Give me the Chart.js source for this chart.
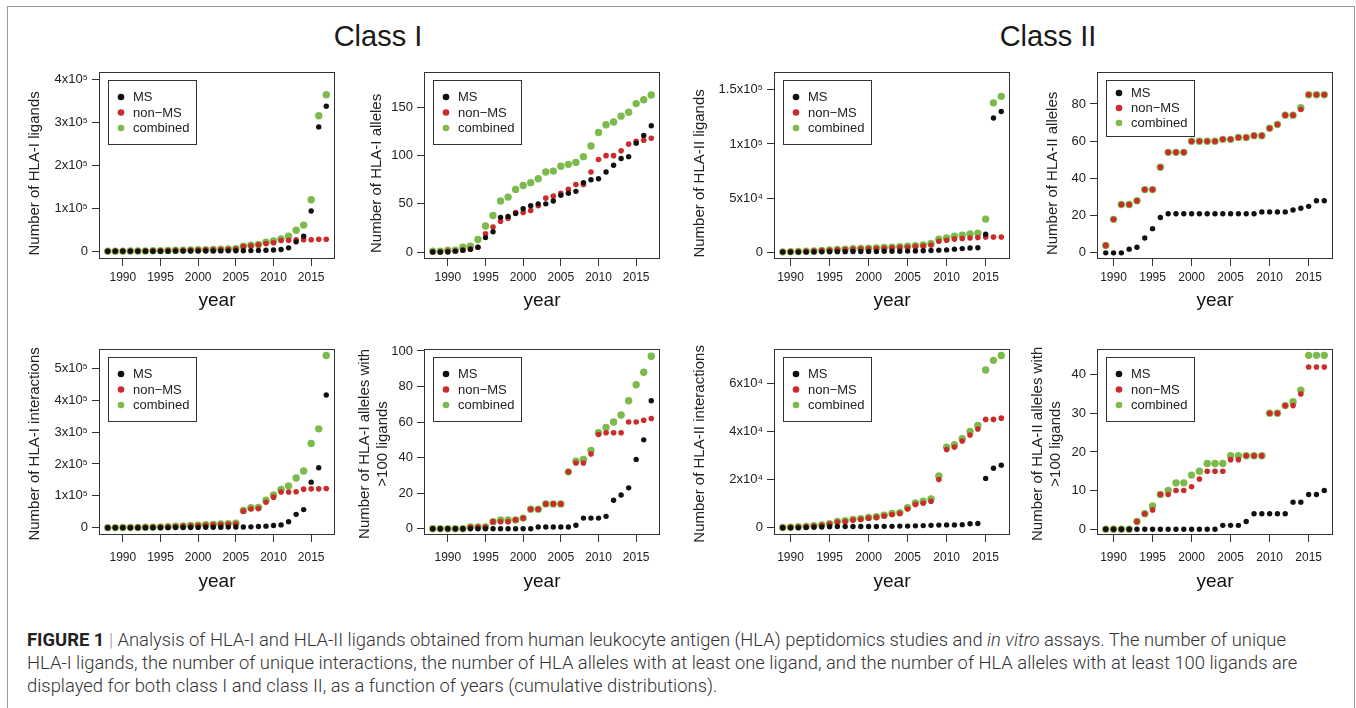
<!DOCTYPE html>
<html lang="en">
<head>
<meta charset="UTF-8" />
<title>HLA-I and HLA-II ligands by year</title>
<script src="https://cdn.jsdelivr.net/npm/chart.js"></script>
<style>
  body {
    margin: 0;
    width: 1356px;
    height: 708px;
    overflow: hidden;
    position: relative;
    background: #fff;
    color: #222;
    font-family: "Liberation Sans", Arial, Helvetica, sans-serif;
  }
  .frame {
    position: absolute;
    left: 7px;
    top: 6px;
    width: 1346px;
    height: 720px;
    border: 1px solid #9a9a9a;
  }
  .classTitle {
    position: absolute;
    top: 18px;
    width: 200px;
    text-align: center;
    font-size: 29px;
    line-height: 36px;
    color: #1a1a1a;
  }
  canvas { position: absolute; }
  .caption {
    position: absolute;
    left: 27px;
    top: 628px;
    font-family: Roboto, "Liberation Sans", sans-serif;
    font-weight: 300;
    font-size: 18.4px;
    line-height: 23px;
    white-space: nowrap;
    color: #333;
  }
  .caption b { font-weight: 700; color: #222; }
  .caption .bar { color: #999; }
</style>
</head>
<body>
<div class="frame"></div>
<div class="classTitle" style="left:278px">Class I</div>
<div class="classTitle" style="left:948px">Class II</div>

<div class="caption">
  <b>FIGURE 1</b> <span class="bar">|</span> Analysis of HLA-I and HLA-II ligands obtained from human leukocyte antigen (HLA) peptidomics studies and <i>in vitro</i> assays. The number of unique<br>
  HLA-I ligands, the number of unique interactions, the number of HLA alleles with at least one ligand, and the number of HLA alleles with at least 100 ligands are<br>
  displayed for both class I and class II, as a function of years (cumulative distributions).
</div>

<script>
  // ---- data ----
  const yearsI = [1988, 1989, 1990, 1991, 1992, 1993, 1994, 1995, 1996, 1997, 1998, 1999, 2000, 2001, 2002,
                  2003, 2004, 2005, 2006, 2007, 2008, 2009, 2010, 2011, 2012, 2013, 2014, 2015, 2016, 2017];
  const yearsII = [1989, 1990, 1991, 1992, 1993, 1994, 1995, 1996, 1997, 1998, 1999, 2000, 2001, 2002,
                   2003, 2004, 2005, 2006, 2007, 2008, 2009, 2010, 2011, 2012, 2013, 2014, 2015, 2016, 2017];
  const xTickYears = [1990, 1995, 2000, 2005, 2010, 2015];
  const seriesNames = ['MS', 'non\u2212MS', 'combined'];

  // HLA-I ligands
  const ligI_MS = [0, 0, 0, 0, 0, 0, 0, 100, 200, 300, 400, 500, 600, 700, 800,
                   900, 1000, 1100, 1300, 1600, 2000, 2500, 3000, 4000, 8000, 22000, 35000, 94000, 290000, 338000];
  const ligI_nonMS = [200, 300, 400, 500, 700, 900, 1100, 1400, 1700, 2000, 2300, 2600, 2900, 3200, 3600,
                      4000, 4500, 5000, 11000, 13000, 15000, 18000, 20000, 25000, 25500, 26500, 27000, 27000, 28000, 28000];
  const ligI_comb = [200, 300, 400, 500, 700, 900, 1100, 1500, 1900, 2300, 2700, 3100, 3500, 3900, 4400,
                     4900, 5500, 6100, 12000, 14000, 16000, 21000, 24000, 29000, 35000, 49000, 61000, 120000, 316000, 365000];

  // HLA-I alleles
  const alI_MS = [0, 0, 0, 1, 2, 3, 5, 15, 21, 36, 37, 40, 45, 48, 50,
                  50, 53, 59, 61, 63, 72, 75, 76, 83, 90, 97, 99, 113, 121, 131];
  const alI_nonMS = [0, 0, 1, 1, 2, 3, 5, 19, 26, 32, 35, 41, 41, 43, 48,
                     56, 58, 61, 65, 70, 70, 83, 96, 100, 100, 105, 112, 115, 116, 118];
  const alI_comb = [1, 1, 2, 2, 5, 6, 13, 27, 38, 53, 57, 65, 69, 72, 76,
                    83, 84, 89, 91, 93, 99, 110, 124, 132, 135, 141, 145, 154, 158, 163];

  // HLA-II ligands
  const ligII_MS = [0, 0, 0, 0, 100, 200, 300, 400, 400, 500, 500, 600, 600, 700,
                    700, 800, 900, 1000, 1200, 1500, 1800, 2000, 2700, 3200, 3800, 4000, 16500, 124000, 130000];
  const ligII_nonMS = [200, 400, 600, 800, 1000, 1300, 1600, 2000, 2300, 2600, 2800, 3100, 3300, 3600,
                       3900, 4200, 4500, 5000, 5500, 6500, 10000, 11000, 12000, 12500, 13000, 13500, 14000, 14000, 14000];
  const ligII_comb = [200, 400, 600, 800, 1100, 1500, 1900, 2400, 2700, 3100, 3300, 3700, 3900, 4300,
                      4600, 5000, 5400, 6000, 6700, 8000, 11800, 13000, 14700, 15700, 16800, 17500, 30500, 138000, 144000];

  // HLA-II alleles
  const alII_MS = [0, 0, 0, 2, 3, 8, 13, 19, 21, 21, 21, 21, 21, 21,
                   21, 21, 21, 21, 21, 21, 22, 22, 22, 22, 23, 24, 25, 28, 28];
  const alII_nonMS = [4, 18, 26, 26, 28, 34, 34, 46, 54, 54, 54, 60, 60, 60,
                      60, 61, 61, 62, 62, 63, 63, 67, 69, 74, 74, 77, 85, 85, 85];
  const alII_comb = [4, 18, 26, 26, 28, 34, 34, 46, 54, 54, 54, 60, 60, 60,
                     60, 61, 61, 62, 62, 63, 63, 67, 69, 74, 74, 78, 85, 85, 85];

  // HLA-I interactions
  const intI_MS = [0, 0, 0, 0, 0, 0, 0, 200, 400, 600, 800, 1000, 1200, 1400, 1600,
                   1800, 2000, 2200, 2400, 2800, 4000, 5000, 7000, 9000, 19000, 42000, 57000, 143000, 188000, 416000];
  const intI_nonMS = [300, 500, 700, 900, 1200, 1500, 2000, 2600, 3300, 4000, 5000, 6000, 7000, 8000, 9000,
                      10000, 11000, 12000, 52000, 59000, 60000, 80000, 96000, 112000, 112000, 113000, 121000, 122000, 122000, 123000];
  const intI_comb = [300, 500, 700, 900, 1200, 1500, 2000, 2800, 3700, 4600, 5800, 7000, 8200, 9400, 10600,
                     11800, 13000, 14200, 54000, 63000, 64000, 86000, 103000, 120000, 131000, 156000, 178000, 264000, 310000, 540000];

  // HLA-I alleles with >100 ligands
  const al100I_MS = [0, 0, 0, 0, 0, 0, 0, 0, 0, 0, 0, 0, 0, 0, 1,
                     1, 1, 1, 1, 2, 6, 6, 6, 7, 16, 19, 23, 39, 50, 72];
  const al100I_nonMS = [0, 0, 0, 0, 0, 1, 1, 1, 4, 4, 4, 5, 6, 11, 11,
                        14, 14, 14, 32, 37, 37, 42, 53, 54, 54, 54, 60, 60, 61, 62];
  const al100I_comb = [0, 0, 0, 0, 0, 1, 1, 1, 4, 5, 5, 5, 6, 11, 11,
                       14, 14, 14, 32, 38, 39, 44, 54, 57, 60, 64, 72, 81, 88, 97];

  // HLA-II interactions
  const intII_MS = [0, 0, 0, 100, 200, 300, 400, 500, 500, 500, 500, 500, 500, 600,
                    600, 700, 700, 800, 900, 1000, 1100, 1200, 1200, 1300, 1700, 1800, 20500, 24700, 26000];
  const intII_nonMS = [100, 150, 300, 500, 700, 1000, 1500, 2400, 2600, 3200, 3500, 4000, 4300, 4900,
                       5500, 5900, 7800, 9700, 10200, 11000, 20000, 32500, 33500, 36000, 38500, 41000, 45000, 45000, 45500];
  const intII_comb = [100, 200, 400, 600, 900, 1200, 1700, 2600, 2900, 3500, 3800, 4300, 4600, 5200,
                      5900, 6300, 8300, 10300, 11000, 12000, 21500, 33500, 34500, 37000, 40000, 42500, 65500, 69500, 71500];

  // HLA-II alleles with >100 ligands
  const al100II_MS = [0, 0, 0, 0, 0, 0, 0, 0, 0, 0, 0, 0, 0, 0,
                      0, 1, 1, 1, 2, 4, 4, 4, 4, 4, 7, 7, 9, 9, 10];
  const al100II_nonMS = [0, 0, 0, 0, 2, 4, 5, 9, 9, 10, 10, 11, 13, 15,
                         15, 15, 18, 18, 19, 19, 19, 30, 30, 32, 32, 35, 42, 42, 42];
  const al100II_comb = [0, 0, 0, 0, 2, 4, 6, 9, 10, 12, 12, 14, 15, 17,
                        17, 17, 19, 19, 19, 19, 19, 30, 30, 32, 33, 36, 45, 45, 45];

  // y tick values and labels
  const yTicksLigI = [0, 100000, 200000, 300000, 400000];
  const yLabelsLigI = ['0', '1x10\u2075', '2x10\u2075', '3x10\u2075', '4x10\u2075'];
  const yTicksAlI = [0, 50, 100, 150];
  const yTicksLigII = [0, 50000, 100000, 150000];
  const yLabelsLigII = ['0', '5x10\u2074', '1x10\u2075', '1.5x10\u2075'];
  const yTicksAlII = [0, 20, 40, 60, 80];
  const yTicksIntI = [0, 100000, 200000, 300000, 400000, 500000];
  const yLabelsIntI = ['0', '1x10\u2075', '2x10\u2075', '3x10\u2075', '4x10\u2075', '5x10\u2075'];
  const yTicksAl100I = [0, 20, 40, 60, 80, 100];
  const yTicksIntII = [0, 20000, 40000, 60000];
  const yLabelsIntII = ['0', '2x10\u2074', '4x10\u2074', '6x10\u2074'];
  const yTicksAl100II = [0, 10, 20, 30, 40];

  // ---- look ----
  const colors = ['#111111', '#cc2b2b', '#7cba4c'];
  const radii = [2.7, 2.8, 3.7];
  const plotLeft = [99, 424, 774, 1097];
  const plotW = 236;
  const plotTop = [70, 347];
  const plotH = [189, 188];
  const xH = [57, 62];
  const xTickPad = [4, 8];
  const yTitleShift = [8, 2];

  Chart.defaults.font.family = '"Liberation Sans", Arial, Helvetica, sans-serif';
  Chart.defaults.color = '#222';

  const plotBox = {
    id: 'plotBox',
    afterDatasetsDraw(chart) {
      const { ctx, chartArea: a } = chart;
      ctx.save();
      ctx.strokeStyle = '#333';
      ctx.lineWidth = 1;
      ctx.strokeRect(Math.round(a.left) + 0.5, Math.round(a.top) + 0.5,
                     Math.round(a.width) - 1, Math.round(a.height) - 1);
      ctx.restore();
    }
  };

  const boxLegend = {
    id: 'boxLegend',
    afterDatasetsDraw(chart, args, opts) {
      const { ctx, chartArea: a } = chart;
      const x = Math.round(a.left + 9), y = Math.round(a.top + 8);
      ctx.save();
      ctx.fillStyle = '#fff';
      ctx.fillRect(x, y, 88, opts.h);
      ctx.strokeStyle = '#333';
      ctx.lineWidth = 1;
      ctx.strokeRect(x + 0.5, y + 0.5, 88, opts.h);
      ctx.font = '13px "Liberation Sans", Arial, sans-serif';
      ctx.textBaseline = 'middle';
      chart.data.datasets.forEach((ds, i) => {
        const cy = y + opts.row0 + i * opts.gap;
        ctx.fillStyle = ds.backgroundColor;
        ctx.beginPath();
        ctx.arc(x + 13, cy, 3.3, 0, Math.PI * 2);
        ctx.fill();
        ctx.fillStyle = '#222';
        ctx.fillText(ds.label, x + 25, cy + 0.5);
      });
      ctx.restore();
    }
  };

  // y axis title, drawn next to the y scale (R puts it a bit lower in the top row)
  const yTitle = {
    id: 'yTitle',
    afterDraw(chart, args, opts) {
      const { ctx, chartArea: a } = chart;
      const s = chart.scales.y;
      const lines = [].concat(opts.text);
      const lh = 18;
      ctx.save();
      ctx.font = '15px "Liberation Sans", Arial, sans-serif';
      ctx.fillStyle = '#222';
      ctx.textAlign = 'center';
      ctx.textBaseline = 'middle';
      ctx.translate(s.left + 4 + lh / 2, (a.top + a.bottom) / 2 + opts.shift);
      ctx.rotate(-Math.PI / 2);
      lines.forEach((t, i) => ctx.fillText(t, 0, i * lh));
      ctx.restore();
    }
  };

  const panels = [
    { col: 0, row: 0, yW: 77, years: yearsI, series: [ligI_MS, ligI_nonMS, ligI_comb],
      yTicks: yTicksLigI, yLabels: yLabelsLigI, ymin: -18000, ymax: 418500,
      title: 'Number of HLA-I ligands' },
    { col: 1, row: 0, yW: 60, years: yearsI, series: [alI_MS, alI_nonMS, alI_comb],
      yTicks: yTicksAlI, ymin: -7.2, ymax: 187,
      title: 'Number of HLA-I alleles' },
    { col: 2, row: 0, yW: 87, years: yearsII, series: [ligII_MS, ligII_nonMS, ligII_comb],
      yTicks: yTicksLigII, yLabels: yLabelsLigII, ymin: -6400, ymax: 166700,
      title: 'Number of HLA-II ligands' },
    { col: 3, row: 0, yW: 57, years: yearsII, series: [alII_MS, alII_nonMS, alII_comb],
      yTicks: yTicksAlII, ymin: -3.3, ymax: 97.3, legendH: 56,
      title: 'Number of HLA-II alleles' },
    { col: 0, row: 1, yW: 77, years: yearsI, series: [intI_MS, intI_nonMS, intI_comb],
      yTicks: yTicksIntI, yLabels: yLabelsIntI, ymin: -22700, ymax: 561000,
      title: 'Number of HLA-I interactions' },
    { col: 1, row: 1, yW: 72, years: yearsI, series: [al100I_MS, al100I_nonMS, al100I_comb],
      yTicks: yTicksAl100I, ymin: -3.5, ymax: 101.2,
      title: ['Number of HLA-I alleles with', '>100 ligands'] },
    { col: 2, row: 1, yW: 87, years: yearsII, series: [intII_MS, intII_nonMS, intII_comb],
      yTicks: yTicksIntII, yLabels: yLabelsIntII, ymin: -3000, ymax: 74300,
      title: 'Number of HLA-II interactions' },
    { col: 3, row: 1, yW: 72, years: yearsII, series: [al100II_MS, al100II_nonMS, al100II_comb],
      yTicks: yTicksAl100II, ymin: -1.5, ymax: 46.7,
      title: ['Number of HLA-II alleles with', '>100 ligands'] }
  ];

  function makePanel(p) {
    const c = document.createElement('canvas');
    const w = p.yW + plotW + 8;
    const h = 10 + plotH[p.row] + xH[p.row];
    c.width = w;
    c.height = h;
    c.style.left = (plotLeft[p.col] - p.yW) + 'px';
    c.style.top = (plotTop[p.row] - 10) + 'px';
    document.body.appendChild(c);

    const xr = p.years === yearsI ? [1986.84, 2018.16] : [1987.88, 2018.12];
    const legendH = p.legendH || 64;

    new Chart(c, {
      type: 'scatter',
      data: {
        datasets: p.series.map((vals, i) => ({
          label: seriesNames[i],
          data: p.years.map((yr, k) => ({ x: yr, y: vals[k] })),
          backgroundColor: colors[i],
          borderWidth: 0,
          pointRadius: radii[i],
          pointHoverRadius: radii[i]
        }))
      },
      options: {
        responsive: false,
        animation: false,
        devicePixelRatio: 1,
        layout: { padding: { left: 0, right: 8, top: 10, bottom: 0 } },
        plugins: {
          legend: { display: false },
          tooltip: { enabled: false },
          boxLegend: { h: legendH, row0: legendH > 60 ? 17 : 13, gap: legendH > 60 ? 15.5 : 15 },
          yTitle: { text: p.title, shift: yTitleShift[p.row] }
        },
        scales: {
          x: {
            type: 'linear',
            min: xr[0],
            max: xr[1],
            afterBuildTicks: s => { s.ticks = xTickYears.map(v => ({ value: v })); },
            afterFit: s => { s.height = xH[p.row]; },
            ticks: { callback: v => String(v), font: { size: 12 }, color: '#222',
                     padding: xTickPad[p.row], maxRotation: 0, autoSkip: false },
            grid: { drawOnChartArea: false, drawTicks: true, tickLength: 7, color: '#333' },
            border: { display: false },
            title: { display: true, text: 'year', font: { size: 19 }, color: '#111',
                     padding: { top: 0, bottom: 4 } }
          },
          y: {
            min: p.ymin,
            max: p.ymax,
            afterBuildTicks: s => { s.ticks = p.yTicks.map(v => ({ value: v })); },
            afterFit: s => { s.width = p.yW; },
            ticks: {
              callback: v => p.yLabels ? p.yLabels[p.yTicks.indexOf(v)] : String(v),
              font: { size: 13 }, color: '#222', padding: 4, autoSkip: false
            },
            grid: { drawOnChartArea: false, drawTicks: true, tickLength: 7, color: '#333' },
            border: { display: false },
            title: { display: false }
          }
        }
      },
      plugins: [plotBox, boxLegend, yTitle]
    });
  }

  panels.forEach(makePanel);
</script>
</body>
</html>
